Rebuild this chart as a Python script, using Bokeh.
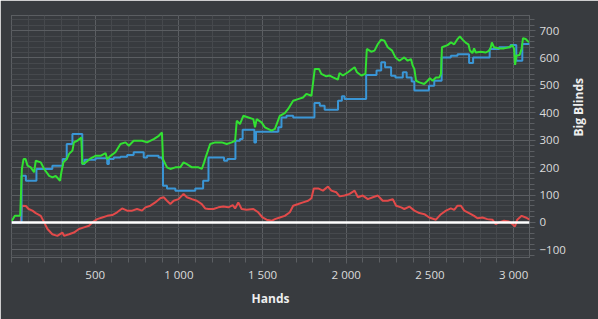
import math
from bokeh.plotting import figure
from bokeh.models import Range1d, FixedTicker, Span
from bokeh.embed import file_html
from bokeh.resources import INLINE

# ---- data (hands, big blinds) ----
green_pts = [(0, 5), (6, 10), (20, 24), (52, 24), (62, 195), (72, 231), (84, 231), (96, 207), (115, 201),
             (135, 183), (145, 225), (175, 219), (195, 195), (225, 170), (245, 164), (264, 170), (290, 152),
             (298, 183), (310, 219), (330, 231), (344, 250), (364, 262), (373, 292), (393, 298), (417, 310),
             (423, 213), (443, 219), (473, 234), (502, 243), (532, 243), (562, 253), (572, 231), (592, 243),
             (621, 256), (651, 286), (681, 292), (701, 280), (730, 298), (780, 298),
             (810, 292), (850, 304), (880, 316), (899, 328), (905, 231), (929, 201), (949, 195), (979, 201),
             (1008, 201), (1028, 219), (1048, 213), (1078, 201), (1117, 201), (1137, 195), (1151, 219),
             (1163, 243), (1187, 286), (1217, 292), (1256, 292), (1286, 286), (1316, 292), (1336, 298),
             (1346, 371), (1365, 359), (1385, 389), (1415, 383), (1445, 377), (1455, 347), (1465, 377),
             (1494, 365), (1514, 347), (1554, 335),
             (1574, 341), (1603, 389), (1633, 399), (1653, 414), (1683, 444), (1712, 450), (1742, 456),
             (1762, 469), (1792, 462), (1802, 511), (1812, 560), (1837, 560), (1851, 542), (1881, 533),
             (1901, 536), (1921, 529), (1950, 521), (1960, 545), (1980, 536), (2010, 548), (2030, 557),
             (2050, 566), (2064, 548), (2090, 536), (2115, 542), (2123, 633), (2149, 623), (2169, 627),
             (2189, 651), (2209, 667), (2228, 663), (2248, 639), (2274, 627), (2294, 602),
             (2318, 590), (2347, 602), (2367, 590), (2387, 596), (2397, 572), (2407, 560), (2417, 517),
             (2437, 511), (2466, 505), (2486, 517), (2500, 526), (2516, 517), (2536, 529), (2556, 529),
             (2566, 542), (2572, 639), (2605, 647), (2626, 657), (2645, 650), (2665, 669), (2679, 679),
             (2695, 667), (2715, 655), (2730, 650), (2739, 627), (2754, 618), (2764, 635), (2774, 620),
             (2804, 623), (2834, 620), (2854, 627), (2864, 639), (2870, 657), (2883, 639), (2913, 635),
             (2943, 635), (2973, 639), (2993, 647), (3003, 633), (3009, 575), (3016, 608), (3036, 611),
             (3048, 633), (3056, 672), (3072, 669), (3092, 657)]

blue_steps = [(0, 0), (60, 170), (86, 152), (149, 195), (244, 207), (306, 231), (330, 286), (364, 323),
              (423, 213), (437, 229), (502, 234), (572, 213), (582, 231), (611, 237), (651, 240), (691, 246),
              (730, 256), (790, 237), (810, 243), (879, 237), (899, 231), (905, 134), (929, 124), (979, 116),
              (1098, 124), (1145, 152), (1177, 237), (1270, 225), (1290, 231), (1338, 298), (1365, 304),
              (1381, 338), (1451, 292), (1461, 331), (1594, 347), (1613, 383), (1643, 389), (1683, 383),
              (1810, 436), (1842, 426), (1871, 411), (1951, 444), (1974, 460), (1990, 450), (2119, 538),
              (2181, 554), (2209, 584), (2232, 566), (2268, 535), (2294, 529), (2338, 548), (2361, 529),
              (2391, 514), (2407, 481), (2494, 499), (2526, 517), (2570, 602), (2625, 608), (2665, 614),
              (2734, 582), (2758, 602), (2857, 633), (2913, 639), (2982, 647), (3016, 590), (3052, 651),
              (3095, 651)]

red_pts = [(0, 0), (55, 0), (62, 61), (86, 60), (102, 49), (125, 43), (145, 34), (175, 24), (195, 0),
           (215, -24), (244, -43), (274, -49), (304, -37), (314, -49), (344, -43), (373, -37), (403, -24),
           (433, -18), (463, -12), (483, 0), (512, 12), (542, 18), (572, 24), (602, 27), (631, 37), (661, 51),
           (691, 43), (721, 43), (750, 49), (780, 43), (800, 55), (830, 61), (859, 73), (889, 88), (909, 92),
           (929, 79), (949, 67), (969, 79), (998, 85), (1028, 104), (1048, 92), (1078, 85), (1107, 79),
           (1137, 67), (1157, 51), (1177, 49), (1207, 49), (1236, 55), (1266, 58), (1296, 55), (1322, 63),
           (1336, 51), (1355, 73), (1375, 49), (1405, 46), (1445, 49), (1474, 37), (1500, 18), (1524, 10),
           (1554, 6), (1574, 12), (1603, 18), (1633, 24), (1663, 37), (1683, 61), (1713, 67), (1742, 73),
           (1772, 79), (1792, 88), (1806, 124), (1832, 124), (1861, 116), (1891, 131), (1911, 116),
           (1941, 110), (1961, 95), (1990, 98), (2020, 104), (2050, 116), (2070, 92), (2099, 98), (2129, 85),
           (2159, 92), (2189, 98), (2218, 79), (2248, 79), (2278, 85), (2298, 61), (2328, 55), (2347, 49),
           (2377, 58), (2407, 43), (2437, 34), (2467, 30), (2496, 18), (2536, 10), (2566, 30), (2596, 43),
           (2625, 51), (2645, 46), (2665, 61), (2685, 61), (2705, 43), (2734, 34), (2764, 24), (2784, 15),
           (2814, 18), (2843, 12), (2873, 10), (2893, -6), (2913, 0), (2943, 6), (2972, 3), (2992, -6),
           (3008, -15), (3022, 10), (3048, 24), (3072, 18), (3096, 10)]

x_ticks = [500, 1000, 1500, 2000, 2500, 3000]
x_tick_labels = ["500", "1 000", "1 500", "2 000", "2 500", "3 000"]
y_ticks = [-100, 0, 100, 200, 300, 400, 500, 600, 700]
x_minor = list(range(0, 3101, 100))
y_minor = list(range(-120, 741, 20))

BG = "#383b3f"
GRID_MAJOR = "#5b5e62"
GRID_MINOR = "#46494d"
TEXT = "#dcdcdc"
FONT = "Open Sans"

p = figure(width=598, height=319, output_backend="svg", toolbar_location=None,
           x_range=Range1d(0, 3095), y_range=Range1d(-128, 755),
           y_axis_location="right",
           background_fill_color=BG, border_fill_color=BG,
           min_border_left=11, min_border_right=68, min_border_top=15, min_border_bottom=62)
p.outline_line_color = GRID_MAJOR
p.outline_line_width = 1

xa = p.xaxis[0]
ya = p.yaxis[0]
xa.ticker = FixedTicker(ticks=x_ticks, minor_ticks=x_minor)
xa.major_label_overrides = dict(zip(x_ticks, x_tick_labels))
ya.ticker = FixedTicker(ticks=y_ticks, minor_ticks=y_minor)

for ax in (xa, ya):
    ax.axis_line_color = None
    ax.major_tick_line_color = GRID_MAJOR
    ax.minor_tick_line_color = GRID_MAJOR
    ax.major_tick_in = 0
    ax.minor_tick_in = 0
    ax.major_tick_out = 6
    ax.minor_tick_out = 5
    ax.major_label_text_color = TEXT
    ax.major_label_text_font = FONT
    ax.major_label_text_font_size = "11.5px"
    ax.axis_label_text_color = "#eeeeee"
    ax.axis_label_text_font = FONT
    ax.axis_label_text_font_size = "12px"
    ax.axis_label_text_font_style = "bold"

xa.axis_label = "Hands"
xa.major_label_standoff = 3
xa.axis_label_standoff = 5
ya.axis_label = "Big Blinds"
ya.major_label_standoff = 4
ya.axis_label_standoff = 10
ya.axis_label_orientation = math.pi / 2

for g in (p.xgrid[0], p.ygrid[0]):
    g.grid_line_color = GRID_MAJOR
    g.grid_line_width = 1
    g.minor_grid_line_color = GRID_MINOR
    g.minor_grid_line_width = 1

rx = [a for a, b in red_pts]
ry = [b for a, b in red_pts]
bx = [a for a, b in blue_steps]
by = [b for a, b in blue_steps]
gx = [a for a, b in green_pts]
gy = [b for a, b in green_pts]

p.line(rx, ry, line_color="#e24a4a", line_width=2)
p.step(bx, by, mode="after", line_color="#3a96d6", line_width=2)
p.line(gx, gy, line_color="#32e032", line_width=2)

p.add_layout(Span(location=0, dimension="width", line_color="white", line_width=2.5))

open("out.html", "w").write(file_html(p, INLINE))
